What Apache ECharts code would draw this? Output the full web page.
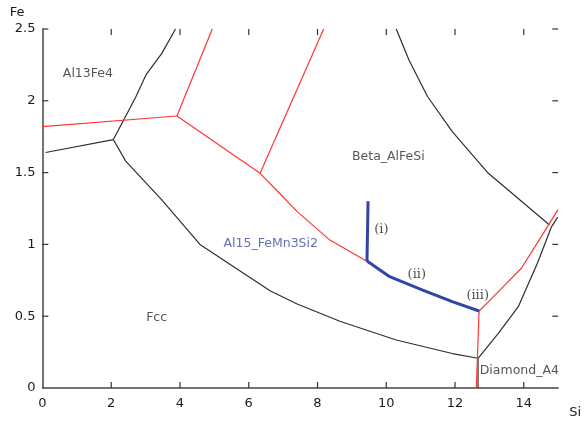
<!DOCTYPE html>
<html>
<head>
<meta charset="utf-8">
<script src="https://cdn.jsdelivr.net/npm/echarts@6/dist/echarts.min.js"></script>
<style>
  html, body { margin: 0; padding: 0; background: #fff; }
  #chart { width: 584px; height: 423px; }
</style>
</head>
<body>
<div id="chart"></div>
<script>
// phase boundaries, [Si, Fe]
var blackLeft = [[0.09, 1.64], [2.06, 1.73]];
var blackUp = [[2.06, 1.73], [2.37, 1.87], [2.72, 2.03], [3.01, 2.18], [3.47, 2.33], [3.87, 2.5]];
var blackLower = [[2.06, 1.73], [2.42, 1.58], [3.47, 1.31], [4.58, 1.0], [6.63, 0.675], [7.41, 0.585],
                  [8.65, 0.465], [10.29, 0.334], [11.92, 0.24], [12.67, 0.207]];
var blackVert = [[12.67, 0.207], [12.67, 0]];
var blackRight = [[12.67, 0.207], [13.26, 0.38], [13.84, 0.566], [14.4, 0.87], [14.8, 1.12], [14.99, 1.19]];
var blackTopRight = [[10.29, 2.5], [10.66, 2.284], [11.2, 2.03], [11.92, 1.785], [12.97, 1.495], [14.75, 1.135]];

var redLeft = [[0, 1.82], [3.91, 1.894]];
var redUp1 = [[3.91, 1.894], [4.94, 2.5]];
var redMid = [[3.91, 1.894], [6.33, 1.495]];
var redUp2 = [[6.33, 1.495], [8.18, 2.5]];
var redLower = [[6.33, 1.495], [7.0, 1.33], [7.41, 1.228], [8.36, 1.03], [9.42, 0.884], [10.1, 0.775],
                [11.06, 0.682], [11.92, 0.601], [12.7, 0.536]];
var redVert = [[12.7, 0.536], [12.62, 0]];
var redRight = [[12.7, 0.536], [13.17, 0.648], [13.93, 0.834], [14.51, 1.054], [14.99, 1.24]];

var blueI = [[9.47, 1.3], [9.44, 0.884]];
var blueII = [[9.44, 0.884], [10.1, 0.775], [11.06, 0.682], [11.92, 0.601], [12.7, 0.536]];

// region names and path marks
var phaseLabels = [[1.32, 2.19, 'Al13Fe4'], [10.06, 1.61, 'Beta_AlFeSi'], [3.32, 0.492, 'Fcc'], [13.87, 0.118, 'Diamond_A4']];
var blueLabels = [[6.64, 1.007, 'Al15_FeMn3Si2']];
var pathLabels = [[9.86, 1.105, '(i)'], [10.89, 0.787, '(ii)'], [12.66, 0.64, '(iii)']];

// inward tick marks on all four sides
var xMin = 0, xMax = 15, yMin = 0, yMax = 2.5;
var xTicks = [2, 4, 6, 8, 10, 12, 14];
var yTicks = [0.5, 1, 1.5, 2, 2.5];

var black = '#2e2e2e', red = '#ff3535', blue = '#3344a8';

function lineSeries(data, color, width) {
    return {
        type: 'line',
        data: data,
        showSymbol: false,
        symbol: 'none',
        silent: true,
        clip: false,
        lineStyle: { color: color, width: width },
        z: width > 2 ? 5 : 3
    };
}

function textSeries(list, color, font, size) {
    return {
        type: 'scatter',
        symbolSize: 0,
        silent: true,
        data: list.map(function (d) { return { value: [d[0], d[1]], name: d[2] }; }),
        label: {
            show: true,
            position: 'inside',
            formatter: '{b}',
            color: color,
            fontFamily: font,
            fontSize: size
        },
        z: 6
    };
}

// short segments on the value scales, about 6px long
var tickLenX = 0.17, tickLenY = 0.042;
var tickSeriesList = [];
xTicks.forEach(function (v) {
    tickSeriesList.push(lineSeries([[v, yMin], [v, yMin + tickLenY]], '#333', 1.2));
    tickSeriesList.push(lineSeries([[v, yMax], [v, yMax - tickLenY]], '#333', 1.2));
});
yTicks.forEach(function (v) {
    tickSeriesList.push(lineSeries([[xMin, v], [xMin + tickLenX, v]], '#333', 1.2));
    tickSeriesList.push(lineSeries([[xMax, v], [xMax - tickLenX, v]], '#333', 1.2));
});

var chart = echarts.init(document.getElementById('chart'));

option = {
    backgroundColor: '#fff',
    animation: false,
    textStyle: { fontFamily: 'DejaVu Sans' },
    grid: { left: 42.5, right: 20, top: 29, bottom: 35 },
    xAxis: {
        type: 'value', min: xMin, max: xMax, interval: 2,
        name: 'Si', nameLocation: 'end', nameGap: 11,
        nameTextStyle: { color: '#1a1a1a', fontSize: 13, verticalAlign: 'top', padding: [18, 0, 0, 0] },
        axisLine: { show: true, onZero: false, lineStyle: { color: '#444', width: 1.5 } },
        axisTick: { show: false },
        axisLabel: { color: '#1a1a1a', fontSize: 13, margin: 9, showMaxLabel: false },
        splitLine: { show: false }
    },
    yAxis: {
        type: 'value', min: yMin, max: yMax, interval: 0.5,
        name: 'Fe', nameLocation: 'end', nameGap: 10,
        nameTextStyle: { color: '#1a1a1a', fontSize: 13, align: 'right', padding: [0, 18, 0, 0] },
        axisLine: { show: true, onZero: false, lineStyle: { color: '#444', width: 1.5 } },
        axisTick: { show: false },
        axisLabel: { color: '#1a1a1a', fontSize: 13, margin: 7 },
        splitLine: { show: false }
    },
    series: tickSeriesList.concat([
        lineSeries(blackLeft, black, 1.2),
        lineSeries(blackUp, black, 1.2),
        lineSeries(blackLower, black, 1.2),
        lineSeries(blackVert, black, 1.2),
        lineSeries(blackRight, black, 1.2),
        lineSeries(blackTopRight, black, 1.2),
        lineSeries(redLeft, red, 1.2),
        lineSeries(redUp1, red, 1.2),
        lineSeries(redMid, red, 1.2),
        lineSeries(redUp2, red, 1.2),
        lineSeries(redLower, red, 1.2),
        lineSeries(redVert, red, 1.2),
        lineSeries(redRight, red, 1.2),
        lineSeries(blueI, blue, 3),
        lineSeries(blueII, blue, 3),
        textSeries(phaseLabels, '#2a2a2a', 'DejaVu Sans', 12.5),
        textSeries(blueLabels, '#3c48a8', 'DejaVu Sans', 12.5),
        textSeries(pathLabels, '#1a1a1a', 'DejaVu Serif', 13)
    ])
};
chart.setOption(option);
</script>
</body>
</html>
